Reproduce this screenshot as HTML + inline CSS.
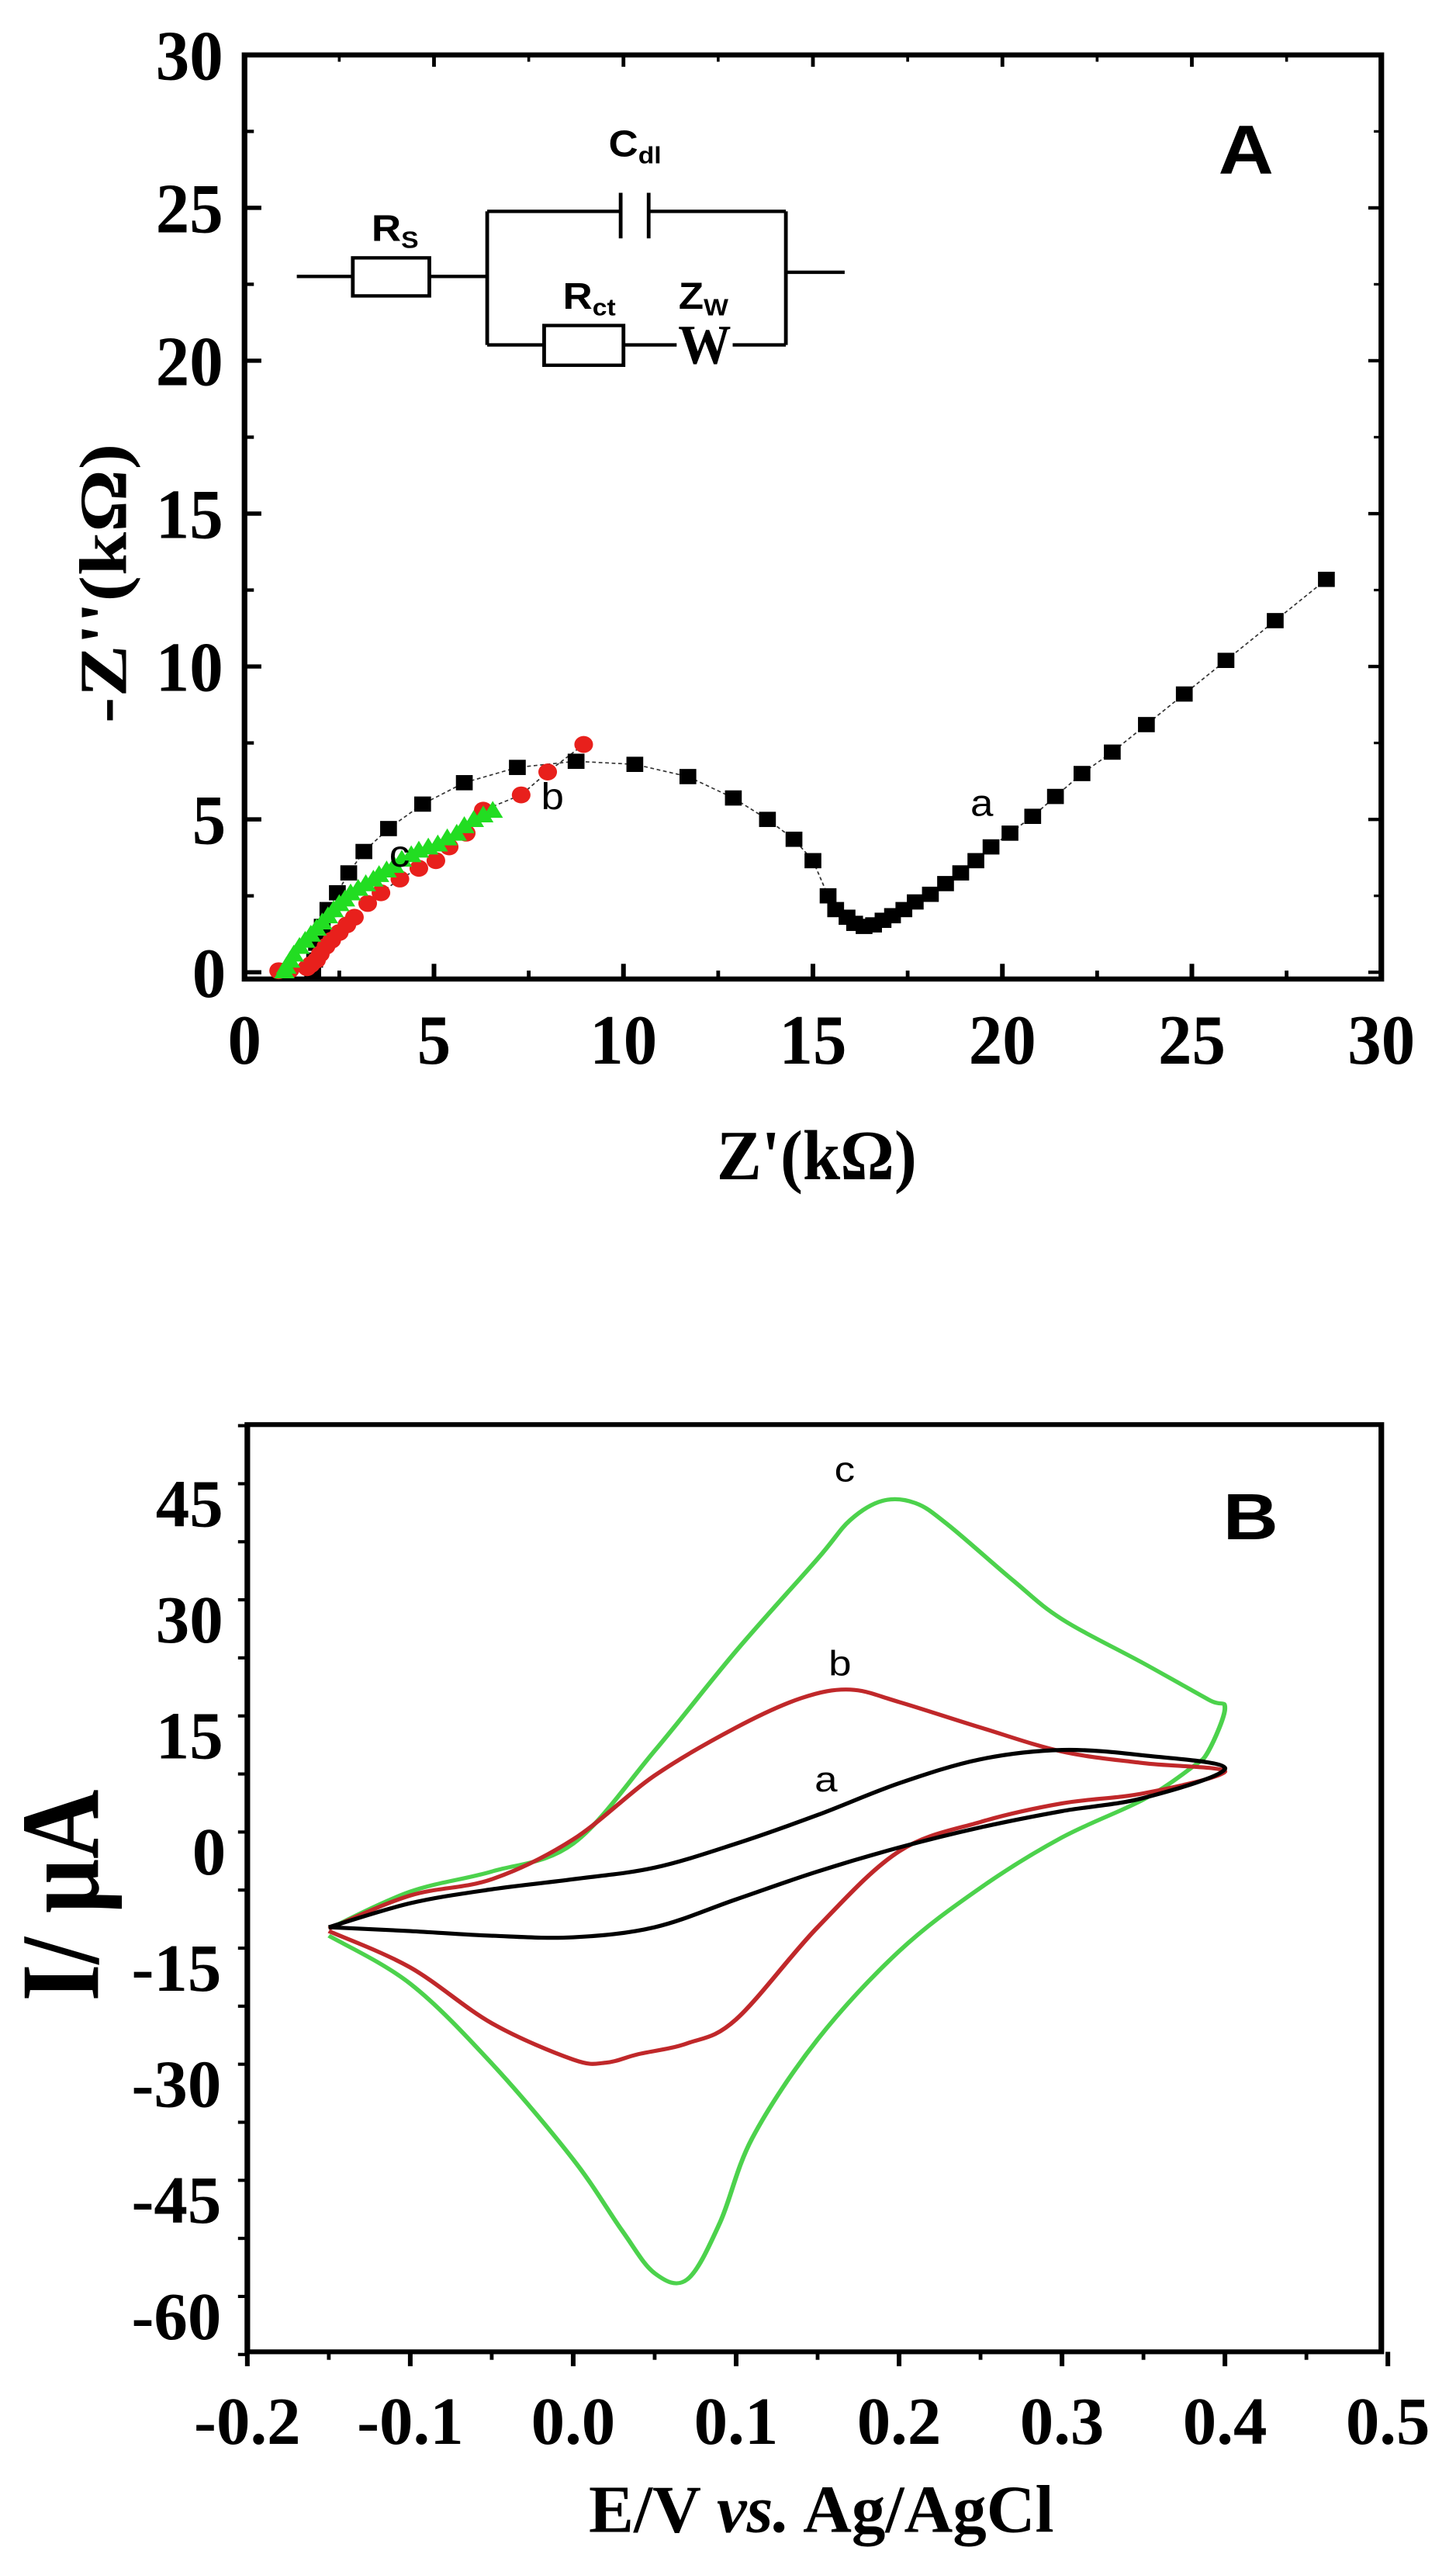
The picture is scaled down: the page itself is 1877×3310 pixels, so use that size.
<!DOCTYPE html>
<html><head><meta charset="utf-8"><style>
html,body{margin:0;padding:0;background:#fff;}
body{width:1877px;height:3310px;position:relative;overflow:hidden;}
svg{position:absolute;left:0;}
text{font-family:"Liberation Serif",serif;font-weight:bold;fill:#000;}
text.sq{transform-box:fill-box;transform-origin:center;transform:scaleX(0.86);}
.sans{font-family:"Liberation Sans",sans-serif;}
</style></head><body>
<svg id="chartA" style="top:0" width="1877" height="1700" viewBox="0 0 1560 1560" preserveAspectRatio="none"></svg>
<svg id="chartB" style="top:1700px" width="1877" height="1610" viewBox="0 0 1560 1560" preserveAspectRatio="none"></svg>
<script>
// ===== Chart A data =====
const aTicks = [0,5,10,15,20,25,30];
const seriesAx = [28.55,27.2,25.9,24.8,23.8,22.9,22.1,21.4,20.8,20.2,19.7,19.3,18.9,18.5,18.1,17.7,17.4,17.1,16.85,16.6,16.35,16.1,15.9,15.6,15.4,15.0,14.5,13.8,12.9,11.7,10.3,8.75,7.2,5.8,4.7,3.8,3.15,2.75,2.45,2.2,2.05,1.9,1.85,1.8];
const seriesAy = [12.85,11.5,10.2,9.1,8.1,7.2,6.5,5.75,5.1,4.55,4.1,3.65,3.25,2.9,2.55,2.3,2.05,1.85,1.7,1.55,1.5,1.6,1.8,2.05,2.5,3.65,4.35,5.0,5.7,6.4,6.8,6.9,6.7,6.2,5.5,4.7,3.95,3.25,2.6,2.05,1.5,0.95,0.4,0.0];
const seriesBx = [8.95,8.0,7.3,6.3,5.85,5.4,5.05,4.6,4.1,3.6,3.25,2.9,2.7,2.5,2.3,2.15,2.0,1.9,1.75,1.65,1.2,0.9];
const seriesBy = [7.45,6.55,5.8,5.3,4.55,4.1,3.65,3.4,3.05,2.6,2.25,1.8,1.55,1.3,1.05,0.85,0.6,0.4,0.25,0.15,0.08,0.05];
const seriesCx = [6.55,6.3,6.05,5.8,5.6,5.35,5.1,4.85,4.6,4.4,4.15,3.95,3.75,3.55,3.4,3.2,3.0,2.8,2.65,2.5,2.35,2.2,2.05,1.9,1.75,1.6,1.45,1.3,1.2,1.1,1.05];
const seriesCy = [5.3,5.15,5.0,4.8,4.55,4.4,4.2,4.1,4.0,3.85,3.7,3.5,3.35,3.2,3.05,2.9,2.75,2.6,2.4,2.25,2.05,1.85,1.65,1.45,1.25,1.05,0.85,0.6,0.4,0.2,0.05];

// ===== Chart B data =====
const bXTicks = [-0.2,-0.1,0.0,0.1,0.2,0.3,0.4,0.5];
const bYTicks = [45,30,15,0,-15,-30,-45,-60];
const cvAx = [-0.15,-0.1,-0.05,0.0,0.05,0.1,0.15,0.2,0.25,0.3,0.35,0.4,0.35,0.3,0.25,0.2,0.15,0.1,0.05,0.0,-0.05,-0.1,-0.15];
const cvAy = [-9.8,-6.7,-4.9,-3.6,-2.1,1,4.7,8.8,11.9,13.1,12.4,10.7,6.9,5.2,3.1,0.5,-2.6,-6.2,-9.8,-11.1,-10.9,-10.3,-9.8];
const cvBx = [-0.15,-0.1,-0.05,0.0,0.05,0.1,0.14,0.17,0.2,0.25,0.3,0.35,0.4,0.35,0.3,0.25,0.2,0.15,0.1,0.07,0.04,0.02,0.0,-0.05,-0.1,-0.15];
const cvBy = [-10,-5.7,-3.6,1.55,9.8,16,19.8,20.9,19.3,16,12.9,11.4,10.3,7.5,6.2,3.8,0,-9.8,-21.7,-24.8,-26.2,-27.3,-26.9,-22.2,-15,-10.3];
const cvCx = [-0.15,-0.1,-0.05,0.0,0.05,0.1,0.15,0.17,0.19,0.21,0.23,0.27,0.3,0.35,0.39,0.4,0.39,0.38,0.35,0.3,0.25,0.2,0.15,0.11,0.09,0.07,0.05,0.03,0.0,-0.05,-0.1,-0.15];
const cvCy = [-10,-5.2,-2.6,1,13,25.9,37.8,42.8,45.3,45,42.2,35,30,24.3,19.6,18.5,13,10.9,6.7,1.8,-4.7,-12.9,-24.3,-37,-48,-55.3,-54.5,-49,-39.8,-27.4,-17.1,-10.9];

const NS="http://www.w3.org/2000/svg";
function mk(parent,tag,attrs,txt){const e=document.createElementNS(NS,tag);for(const k in attrs)e.setAttribute(k,attrs[k]);if(txt!==undefined)e.textContent=txt;parent.appendChild(e);return e;}
function smooth(P){let d='M'+P[0][0]+','+P[0][1];for(let i=0;i<P.length-1;i++){const p0=P[i-1]||P[i],p1=P[i],p2=P[i+1],p3=P[i+2]||P[i+1];const t=1/6;
 d+=` C${p1[0]+(p2[0]-p0[0])*t},${p1[1]+(p2[1]-p0[1])*t} ${p2[0]-(p3[0]-p1[0])*t},${p2[1]-(p3[1]-p1[1])*t} ${p2[0]},${p2[1]}`;}return d;}

// ---------- Chart A ----------
(function(){
const s=document.getElementById('chartA');
const L=262,R=1480,T=65,B=1158;
const xA=v=>L+(v-0)/(30-0)*(R-L);
const yA=v=>1150-(v/30)*(1150-65);
const fr=mk(s,'rect',{x:L,y:T,width:R-L,height:B-T,fill:'none',stroke:'#000','stroke-width':6});


aTicks.forEach((v,i)=>{
  let t=mk(s,'line',{x1:xA(v),x2:xA(v),y1:B,y2:B-18,stroke:'#000','stroke-width':5});
  
  
  mk(s,'line',{x1:xA(v),x2:xA(v),y1:T,y2:T+14,stroke:'#000','stroke-width':4});
  if(i<aTicks.length-1){mk(s,'line',{x1:xA(v+2.5),x2:xA(v+2.5),y1:B,y2:B-10,stroke:'#000','stroke-width':4});mk(s,'line',{x1:xA(v+2.5),x2:xA(v+2.5),y1:T,y2:T+8,stroke:'#000','stroke-width':3});}
  let xl=mk(s,'text',{x:xA(v),y:1258,'font-size':84,'text-anchor':'middle',class:'sq'},String(v));
  
  
  mk(s,'line',{x1:L,x2:L+18,y1:yA(v),y2:yA(v),stroke:'#000','stroke-width':5});
  mk(s,'line',{x1:R,x2:R-14,y1:yA(v),y2:yA(v),stroke:'#000','stroke-width':4});
  if(i<aTicks.length-1){mk(s,'line',{x1:L,x2:L+10,y1:yA(v+2.5),y2:yA(v+2.5),stroke:'#000','stroke-width':4});mk(s,'line',{x1:R,x2:R-8,y1:yA(v+2.5),y2:yA(v+2.5),stroke:'#000','stroke-width':3});}
  let yl=mk(s,'text',{x:245,y:yA(v)+29,'font-size':84,'text-anchor':'end',class:'sq'},String(v));
  
  
});
let xt=mk(s,'text',{x:875,y:1395,'font-size':84,'text-anchor':'middle',class:'sq'},"Z'(k\u03A9)");


let yt=mk(s,'text',{x:0,y:0,'font-size':84,'text-anchor':'middle',transform:'translate(135,690) rotate(-90) scale(1.1,0.86)'},"-Z''(k\u03A9)");


let pl=mk(s,'text',{x:1335,y:205,'font-size':82,'text-anchor':'middle',class:'sans'},"A");


let pts=seriesAx.map((x,i)=>xA(x)+','+yA(seriesAy[i])).join(' ');
mk(s,'polyline',{points:pts,fill:'none',stroke:'#333','stroke-width':1.5,'stroke-dasharray':'4,3'});
pts=seriesBx.map((x,i)=>xA(x)+','+yA(seriesBy[i])).join(' ');
mk(s,'polyline',{points:pts,fill:'none',stroke:'#333','stroke-width':1.5,'stroke-dasharray':'4,3'});
seriesAx.forEach((x,i)=>{const r=mk(s,'rect',{x:xA(x)-9,y:yA(seriesAy[i])-9,width:18,height:18,fill:'#000'});
  
  });
seriesBx.forEach((x,i)=>{const c=mk(s,'circle',{cx:xA(x),cy:yA(seriesBy[i]),r:10,fill:'#e8201c'});
  
  });
seriesCx.forEach((x,i)=>{const cx=xA(x),cy=yA(seriesCy[i]);const p=mk(s,'polygon',{points:`${cx},${cy-11} ${cx-11},${cy+9} ${cx+11},${cy+9}`,fill:'#22dd22'});
  
  });
[['a',1052,965],['b',592,957],['c',428,1025]].forEach(d=>{const t=mk(s,'text',{x:d[1],y:d[2],'font-size':44,'text-anchor':'middle',class:'sans',style:'font-weight:normal'},d[0]);
  
  });
const g=mk(s,'g',{stroke:'#000','stroke-width':4,fill:'none'});


[[318,327,378,327],[460,327,522,327],[522,250,522,408],[522,250,665,250],[695,250,842,250],[665,228,665,282],[695,228,695,282],[842,250,842,408],[842,322,905,322],[522,408,583,408],[668,408,725,408],[785,408,842,408]].forEach(l=>mk(g,'line',{x1:l[0],y1:l[1],x2:l[2],y2:l[3]}));
mk(g,'rect',{x:378,y:305,width:82,height:45,fill:'#fff'});
mk(g,'rect',{x:583,y:385,width:85,height:47,fill:'#fff'});
mk(s,'text',{x:755,y:430,'font-size':66,'text-anchor':'middle',class:'sq'},"W");
const lab=(x,y,a,b)=>{const t=mk(s,'text',{x:x,y:y,'font-size':44,class:'sans'});t.textContent=a;mk(t,'tspan',{'font-size':28,dy:8},b);return t;};
lab(398,285,'R','S');lab(652,185,'C','dl');lab(603,365,'R','ct');lab(727,365,'Z','W');
})();

// ---------- Chart B ----------
(function(){
const s=document.getElementById('chartB');
const L=265,R=1480,T=132,B=1290;
const xB=v=>265+(v+0.2)/0.7*(1487-265);
const yB=v=>665-v/15*145;
const fr=mk(s,'rect',{x:L,y:T,width:R-L,height:B-T,fill:'none',stroke:'#000','stroke-width':6});


bXTicks.forEach((v,i)=>{
  mk(s,'line',{x1:xB(v),x2:xB(v),y1:B,y2:B+18,stroke:'#000','stroke-width':5});
  if(i<bXTicks.length-1)mk(s,'line',{x1:xB(v+0.05),x2:xB(v+0.05),y1:B,y2:B+10,stroke:'#000','stroke-width':4});
  const t=mk(s,'text',{x:xB(v),y:1405,'font-size':84,'text-anchor':'middle',class:'sq'},v.toFixed(1));
  
  
});
for(let v=55;v>=-65;v-=7.5){mk(s,'line',{x1:L,x2:L-(Math.abs(v%15)<0.01?18:10),y1:yB(v),y2:yB(v),stroke:'#000','stroke-width':4});}
bYTicks.forEach(v=>{
  const t=mk(s,'text',{x:245,y:yB(v)+29,'font-size':84,'text-anchor':'end',class:'sq'},String(v));
  
  
});
const xt=mk(s,'text',{x:880,y:1515,'font-size':84,'text-anchor':'middle',class:'sq'});


xt.appendChild(document.createTextNode('E/V '));mk(xt,'tspan',{'font-style':'italic'},'vs.');xt.appendChild(document.createTextNode(' Ag/AgCl'));
const yt=mk(s,'text',{x:0,y:0,'font-size':120,'text-anchor':'middle',transform:'translate(105,720) rotate(-90)'},"I/ \u03BCA");


const pl=mk(s,'text',{x:1340,y:275,'font-size':82,'text-anchor':'middle',class:'sans'},"B");


const curve=(xs,ys,col,name)=>{const p=mk(s,'path',{d:smooth(xs.map((x,i)=>[xB(x),yB(ys[i])])),fill:'none',stroke:col,'stroke-width':5,'stroke-linejoin':'round'});
  
  };
curve(cvCx,cvCy,'#4cd24c','cv-curve-c');
curve(cvBx,cvBy,'#c0282a','cv-curve-b');
curve(cvAx,cvAy,'#000','cv-curve-a');
[['a',885,590],['b',900,445],['c',905,203]].forEach(d=>{const t=mk(s,'text',{x:d[1],y:d[2],'font-size':44,class:'sans',style:'font-weight:normal','text-anchor':'middle'},d[0]);
  
  });
})();
</script>
</body></html>
